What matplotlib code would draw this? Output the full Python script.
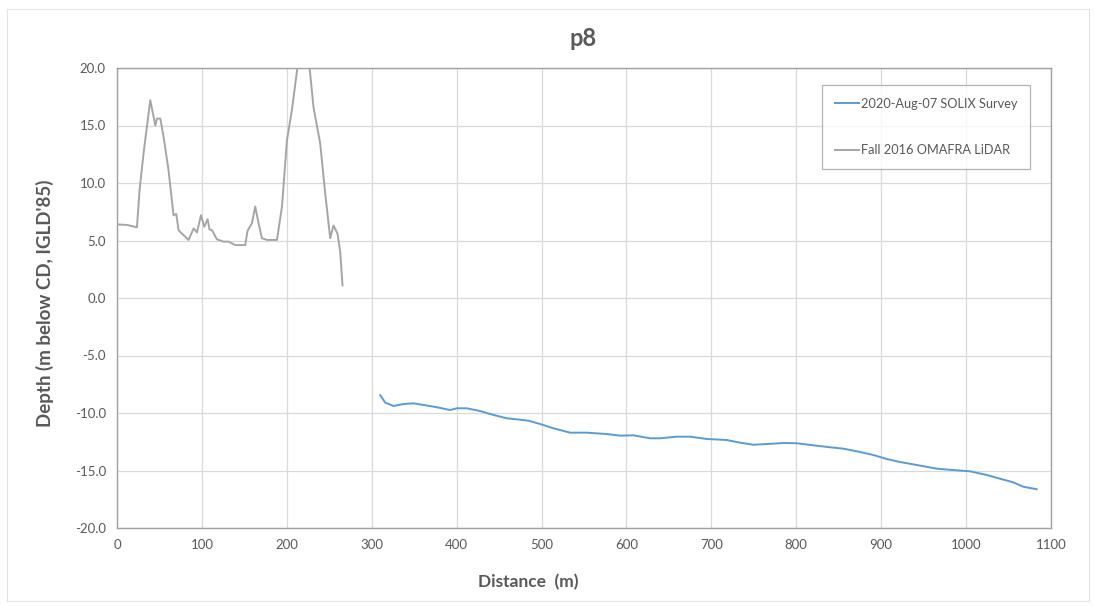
import matplotlib
matplotlib.use("Agg")
import matplotlib.pyplot as plt
from matplotlib.patches import Rectangle

plt.rcParams['font.family'] = ['Lato', 'DejaVu Sans']

# Fall 2016 OMAFRA LiDAR (gray)
lidar_dist = [0, 12, 23.5, 26.6, 31.3, 39.2, 45.1, 47.1, 51, 54.9, 60.7, 66.6, 69.8, 72.5,
              76.5, 84.3, 90.2, 94.2, 98.9, 102.8, 106.7, 109, 111.8, 117.7, 125.5, 131.4,
              139.3, 151, 153.8, 158.9, 162.8, 166.7, 170.7, 176.6, 188.4, 194.3, 200.1,
              206, 212.6, 219, 226.7, 231.4, 239.3, 245.2, 251.1, 255, 259.7, 262.9, 265.6]
lidar_depth = [6.4, 6.35, 6.15, 9.4, 12.6, 17.2, 15.0, 15.6, 15.6, 14.0, 11.1, 7.2, 7.3, 5.9,
               5.6, 5.05, 6.05, 5.7, 7.2, 6.2, 6.85, 5.95, 5.9, 5.1, 4.9, 4.9,
               4.6, 4.6, 5.85, 6.5, 7.95, 6.5, 5.2, 5.05, 5.05, 7.95, 13.7,
               16.35, 20.1, 23.0, 20.1, 16.6, 13.45, 9.1, 5.2, 6.3, 5.6, 4.0, 1.1]

# 2020-Aug-07 SOLIX Survey (blue)
solix_dist = [310, 315.9, 325.6, 337.4, 349.2, 361, 376.7, 392.4, 400.3, 412, 427.7, 443.4,
              459.1, 470.9, 484.6, 498.4, 514, 533.7, 553.3, 576.9, 592.5, 608.2, 627.8,
              639.6, 659.3, 675, 694.6, 718.2, 733.8, 749.5, 765.2, 784.8, 800.6, 820.1,
              839.8, 855.4, 875.1, 890.7, 906.5, 922.2, 941.8, 965.4, 984.9, 1004.6,
              1024.3, 1039.9, 1055.6, 1067.4, 1083.1]
solix_depth = [-8.45, -9.1, -9.39, -9.22, -9.16, -9.3, -9.5, -9.74, -9.59, -9.59, -9.83, -10.17,
               -10.46, -10.55, -10.67, -10.96, -11.33, -11.71, -11.71, -11.83, -11.97, -11.94,
               -12.2, -12.2, -12.06, -12.06, -12.26, -12.35, -12.58, -12.76, -12.7, -12.61,
               -12.63, -12.81, -12.98, -13.1, -13.39, -13.65, -14.0, -14.26, -14.52, -14.84,
               -14.96, -15.07, -15.39, -15.71, -16.03, -16.41, -16.63]

x_ticks = list(range(0, 1101, 100))
y_ticks = [-20, -15, -10, -5, 0, 5, 10, 15, 20]

txt = '#595959'

fig = plt.figure(figsize=(10.94, 6.07), dpi=100)
# rahmen des diagrammbereichs
fig.patches.append(Rectangle((7 / 1094, 6 / 607), 1082 / 1094, 592 / 607,
                             transform=fig.transFigure, fill=False,
                             edgecolor='#e3e3e3', linewidth=0.8))

ax = fig.add_axes([117 / 1094, 1 - 528 / 607, 934 / 1094, 460 / 607])

ax.plot(solix_dist, solix_depth, color='#5b9bd5', linewidth=1.4,
        label='2020-Aug-07 SOLIX Survey', zorder=3)
ax.plot(lidar_dist, lidar_depth, color='#a5a5a5', linewidth=1.4,
        label='Fall 2016 OMAFRA LiDAR', zorder=3)

ax.set_xlim(0, 1100)
ax.set_ylim(-20, 20)
ax.set_xticks(x_ticks)
ax.set_yticks(y_ticks)
ax.set_yticklabels([f'{v:.1f}' for v in y_ticks])
ax.tick_params(length=0, labelsize=9.5, colors=txt, pad=8)
ax.grid(True, color='#d9d9d9', linewidth=0.9)
ax.set_axisbelow(True)
for s in ax.spines.values():
    s.set_color('#a0a0a0')
    s.set_linewidth(1.0)

fig.text(583 / 1094, 1 - 38 / 607, 'p8', ha='center', va='center',
         fontsize=17, fontweight='bold', color=txt)
fig.text(528 / 1094, 1 - 582 / 607, 'Distance  (m)', ha='center', va='center',
         fontsize=12.5, fontweight='bold', color=txt)
fig.text(45 / 1094, 1 - 303 / 607, "Depth (m below CD, IGLD'85)", ha='center', va='center',
         rotation=90, fontsize=13.5, fontweight='bold', color=txt)

leg = ax.legend(loc='upper left', bbox_to_anchor=((822 - 117) / 934, (528 - 85) / 460),
                frameon=True, fancybox=False, fontsize=9.2, labelspacing=2.7,
                handlelength=1.9, handletextpad=0.15, borderpad=1.0, borderaxespad=0)
leg.get_frame().set_edgecolor('#a0a0a0')
leg.get_frame().set_linewidth(0.9)
for t in leg.get_texts():
    t.set_color(txt)

fig.savefig('out.png', dpi=100)
